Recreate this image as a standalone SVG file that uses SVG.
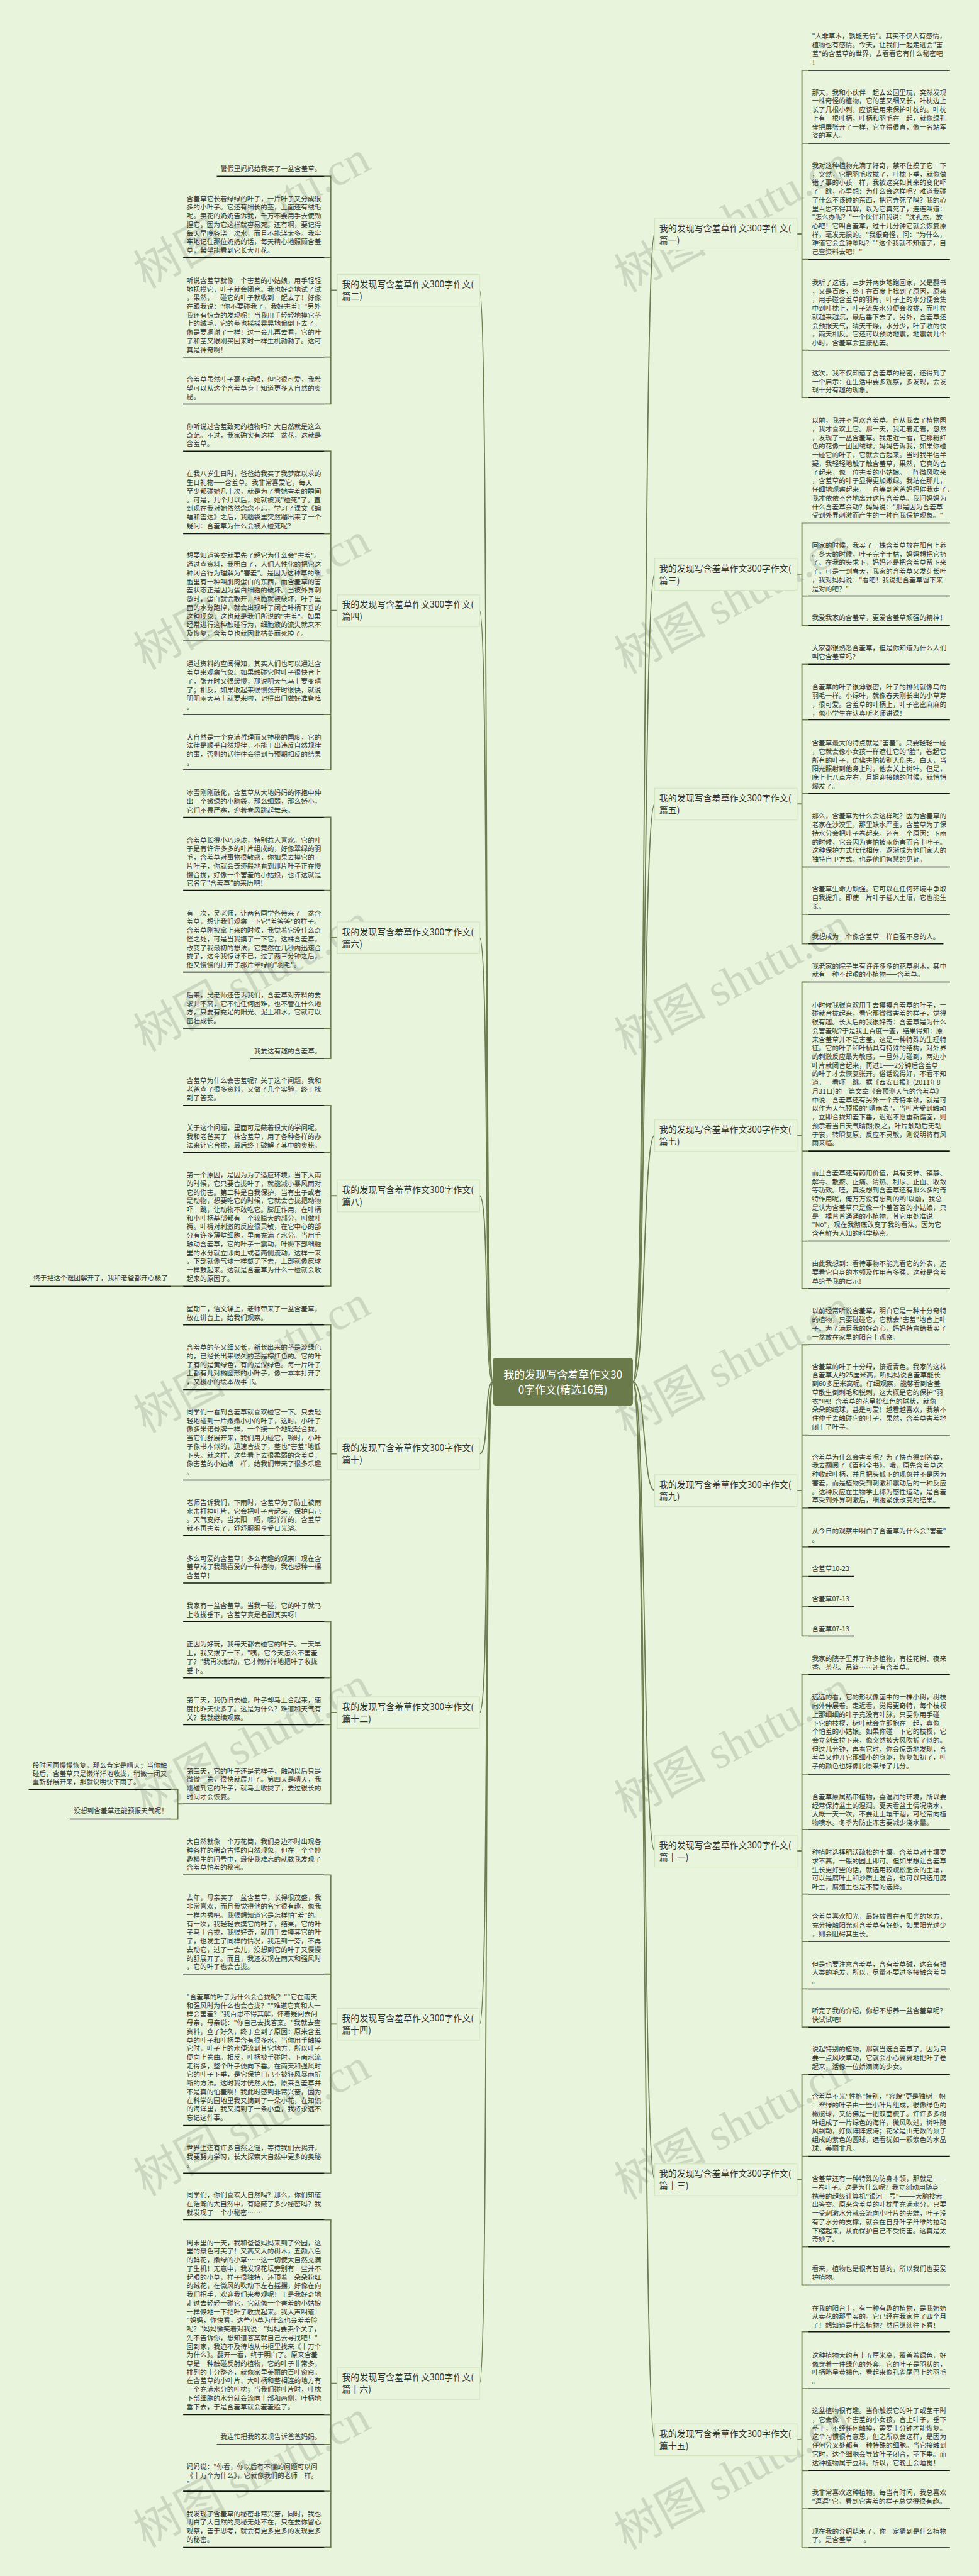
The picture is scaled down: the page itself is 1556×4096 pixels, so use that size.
<svg xmlns="http://www.w3.org/2000/svg" width="1556" height="4096" viewBox="0 0 1556 4096">
<style>
.t{font-family:"Noto Sans CJK SC","Liberation Sans",sans-serif;font-size:17.6px;fill:#333}
.e{text-anchor:end}
.u{stroke:#111;stroke-width:2.6}
.b{stroke:#6e7d50;stroke-width:3;fill:none}
.c{stroke:#6e7d50;stroke-width:3;fill:none}
.lb{fill:#e8f5dc;stroke:#d3e6c2;stroke-width:2}
.lt{font-family:"Noto Sans CJK SC","Liberation Sans",sans-serif;font-size:23px;fill:#333}
.ct{font-family:"Noto Sans CJK SC","Liberation Sans",sans-serif;font-size:28px;fill:#fff;text-anchor:middle}
.wm{font-family:"Liberation Serif","Noto Sans CJK SC",serif;font-size:120px;fill:#a9b3a0;opacity:0.45;text-anchor:end}
</style>
<rect width="1556" height="4096" fill="#e8f5dc"/>
<g transform="scale(0.60781)">
<g id="watermarks">
<text class="wm" transform="translate(975,440) rotate(-28)">树图 shutu.cn</text>
<text class="wm" transform="translate(975,1438) rotate(-28)">树图 shutu.cn</text>
<text class="wm" transform="translate(975,2436) rotate(-28)">树图 shutu.cn</text>
<text class="wm" transform="translate(975,3434) rotate(-28)">树图 shutu.cn</text>
<text class="wm" transform="translate(975,4432) rotate(-28)">树图 shutu.cn</text>
<text class="wm" transform="translate(975,5430) rotate(-28)">树图 shutu.cn</text>
<text class="wm" transform="translate(975,6350) rotate(-28)">树图 shutu.cn</text>
<text class="wm" transform="translate(2232,450) rotate(-28)">树图 shutu.cn</text>
<text class="wm" transform="translate(2232,1448) rotate(-28)">树图 shutu.cn</text>
<text class="wm" transform="translate(2232,2446) rotate(-28)">树图 shutu.cn</text>
<text class="wm" transform="translate(2232,3444) rotate(-28)">树图 shutu.cn</text>
<text class="wm" transform="translate(2232,4442) rotate(-28)">树图 shutu.cn</text>
<text class="wm" transform="translate(2232,5440) rotate(-28)">树图 shutu.cn</text>
<text class="wm" transform="translate(2232,6355) rotate(-28)">树图 shutu.cn</text>
</g>
<g id="connectors">
<path class="c" d="M1655,3615 C1690,3615 1680,612 1712,612"/>
<path class="c" d="M1655,3615 C1690,3615 1680,1502 1712,1502"/>
<path class="c" d="M1655,3615 C1690,3615 1680,2103 1712,2103"/>
<path class="c" d="M1655,3615 C1690,3615 1680,2970 1712,2970"/>
<path class="c" d="M1655,3615 C1690,3615 1680,3899 1712,3899"/>
<path class="c" d="M1655,3615 C1690,3615 1680,4842 1712,4842"/>
<path class="c" d="M1655,3615 C1690,3615 1680,5702 1712,5702"/>
<path class="c" d="M1655,3615 C1690,3615 1680,6382 1712,6382"/>
<path class="c" d="M1289,3615 C1265,3615 1280,759 1254,759"/>
<path class="c" d="M1289,3615 C1265,3615 1280,1597 1254,1597"/>
<path class="c" d="M1289,3615 C1265,3615 1280,2453 1254,2453"/>
<path class="c" d="M1289,3615 C1265,3615 1280,3128 1254,3128"/>
<path class="c" d="M1289,3615 C1265,3615 1280,3803 1254,3803"/>
<path class="c" d="M1289,3615 C1265,3615 1280,4480 1254,4480"/>
<path class="c" d="M1289,3615 C1265,3615 1280,5295 1254,5295"/>
<path class="c" d="M1289,3615 C1265,3615 1280,6235 1254,6235"/>
<path class="b" d="M848,461H865V1057H848M848,674H865M848,934H865M865,759H882"/>
<path class="b" d="M848,1180H865V2014H848M848,1396H865M848,1677H865M848,1869H865M865,1597H882"/>
<path class="b" d="M848,2138H865V2769H848M848,2329H865M848,2543H865M848,2690H865M865,2453H882"/>
<path class="b" d="M848,2892H865V3365H848M848,3015H865M865,3128H882"/>
<path class="b" d="M848,3466H865V4141H848M848,3635H865M848,3872H865M848,4017H865M865,3803H882"/>
<path class="b" d="M848,4242H865V4719H848M848,4389H865M848,4512H865M865,4480H882"/>
<path class="b" d="M848,4905H865V5685H848M848,5164H865M848,5560H865M865,5295H882"/>
<path class="b" d="M848,5807H865V6664H848M848,6317H865M848,6395H865M848,6517H865M865,6235H882"/>
<path class="b" d="M479,4719H465M447,4681H465V4759H447"/>
<path class="b" d="M479,3365H447"/>
<path class="b" d="M2114,184H2097V1040H2114M2097,375H2114M2097,679H2114M2097,916H2114M2084,612H2097"/>
<path class="b" d="M2114,1368H2097V1636H2114M2097,1559H2114M2084,1502H2097"/>
<path class="b" d="M2114,1738H2097V2469H2114M2097,1883H2114M2097,2076H2114M2097,2268H2114M2097,2392H2114M2084,2103H2097"/>
<path class="b" d="M2114,2569H2097V3371H2114M2097,3011H2114M2097,3247H2114M2084,2970H2097"/>
<path class="b" d="M2114,3518H2097V4280H2114M2097,3754H2114M2097,3945H2114M2097,4047H2114M2097,4124H2114M2097,4203H2114M2084,3899H2097"/>
<path class="b" d="M2114,4381H2097V5303H2114M2097,4641H2114M2097,4786H2114M2097,4955H2114M2097,5079H2114M2097,5203H2114M2084,4842H2097"/>
<path class="b" d="M2114,5427H2097V5978H2114M2097,5641H2114M2097,5878H2114M2084,5702H2097"/>
<path class="b" d="M2114,6100H2097V6665H2114M2097,6249H2114M2097,6463H2114M2097,6563H2114M2084,6382H2097"/>
</g>
<g id="center">
<rect x="1289" y="3552" width="366" height="126" rx="8" fill="#6a7a4b"/>
<text class="ct"><tspan x="1472" y="3606">我的发现写含羞草作文30</tspan><tspan x="1472" y="3646">0字作文(精选16篇)</tspan></text>
</g>
<g id="labels">
<g id="p2"><rect class="lb" x="882" y="718" width="372" height="83"/><text class="lt"><tspan x="894" y="752">我的发现写含羞草作文300字作文(</tspan><tspan x="894" y="783">篇二)</tspan></text></g>
<g id="p4"><rect class="lb" x="882" y="1556" width="372" height="83"/><text class="lt"><tspan x="894" y="1590">我的发现写含羞草作文300字作文(</tspan><tspan x="894" y="1621">篇四)</tspan></text></g>
<g id="p6"><rect class="lb" x="882" y="2412" width="372" height="83"/><text class="lt"><tspan x="894" y="2446">我的发现写含羞草作文300字作文(</tspan><tspan x="894" y="2477">篇六)</tspan></text></g>
<g id="p8"><rect class="lb" x="882" y="3087" width="372" height="83"/><text class="lt"><tspan x="894" y="3121">我的发现写含羞草作文300字作文(</tspan><tspan x="894" y="3152">篇八)</tspan></text></g>
<g id="p10"><rect class="lb" x="882" y="3762" width="372" height="83"/><text class="lt"><tspan x="894" y="3796">我的发现写含羞草作文300字作文(</tspan><tspan x="894" y="3827">篇十)</tspan></text></g>
<g id="p12"><rect class="lb" x="882" y="4439" width="372" height="83"/><text class="lt"><tspan x="894" y="4473">我的发现写含羞草作文300字作文(</tspan><tspan x="894" y="4504">篇十二)</tspan></text></g>
<g id="p14"><rect class="lb" x="882" y="5254" width="372" height="83"/><text class="lt"><tspan x="894" y="5288">我的发现写含羞草作文300字作文(</tspan><tspan x="894" y="5319">篇十四)</tspan></text></g>
<g id="p16"><rect class="lb" x="882" y="6194" width="372" height="83"/><text class="lt"><tspan x="894" y="6228">我的发现写含羞草作文300字作文(</tspan><tspan x="894" y="6259">篇十六)</tspan></text></g>
<g id="p1"><rect class="lb" x="1712" y="571" width="372" height="83"/><text class="lt"><tspan x="1724" y="605">我的发现写含羞草作文300字作文(</tspan><tspan x="1724" y="636">篇一)</tspan></text></g>
<g id="p3"><rect class="lb" x="1712" y="1461" width="372" height="83"/><text class="lt"><tspan x="1724" y="1495">我的发现写含羞草作文300字作文(</tspan><tspan x="1724" y="1526">篇三)</tspan></text></g>
<g id="p5"><rect class="lb" x="1712" y="2062" width="372" height="83"/><text class="lt"><tspan x="1724" y="2096">我的发现写含羞草作文300字作文(</tspan><tspan x="1724" y="2127">篇五)</tspan></text></g>
<g id="p7"><rect class="lb" x="1712" y="2929" width="372" height="83"/><text class="lt"><tspan x="1724" y="2963">我的发现写含羞草作文300字作文(</tspan><tspan x="1724" y="2994">篇七)</tspan></text></g>
<g id="p9"><rect class="lb" x="1712" y="3858" width="372" height="83"/><text class="lt"><tspan x="1724" y="3892">我的发现写含羞草作文300字作文(</tspan><tspan x="1724" y="3923">篇九)</tspan></text></g>
<g id="p11"><rect class="lb" x="1712" y="4801" width="372" height="83"/><text class="lt"><tspan x="1724" y="4835">我的发现写含羞草作文300字作文(</tspan><tspan x="1724" y="4866">篇十一)</tspan></text></g>
<g id="p13"><rect class="lb" x="1712" y="5661" width="372" height="83"/><text class="lt"><tspan x="1724" y="5695">我的发现写含羞草作文300字作文(</tspan><tspan x="1724" y="5726">篇十三)</tspan></text></g>
<g id="p15"><rect class="lb" x="1712" y="6341" width="372" height="83"/><text class="lt"><tspan x="1724" y="6375">我的发现写含羞草作文300字作文(</tspan><tspan x="1724" y="6406">篇十五)</tspan></text></g>
</g>
<g id="left-leaves">
<g id="a1"><text class="t e" x="840" y="448">暑假里妈妈给我买了一盆含羞草。</text><line class="u" x1="567" y1="461" x2="848" y2="461"/></g>
<g id="a2"><text class="t"><tspan x="488" y="526">含羞草它长着绿绿的叶子，一片叶子又分成很</tspan><tspan x="488" dy="22.6">多的小叶子。它还有细长的茎，上面还有绒毛</tspan><tspan x="488" dy="22.6">呢。卖花的奶奶告诉我，千万不要用手去使劲</tspan><tspan x="488" dy="22.6">捏它，因为它这样就容易死。还有啊，要记得</tspan><tspan x="488" dy="22.6">每天早晚各浇一次水，而且不能浇太多。我牢</tspan><tspan x="488" dy="22.6">牢地记住那位奶奶的话，每天精心地照顾含羞</tspan><tspan x="488" dy="22.6">草，希望能看到它长大开花。</tspan></text><line class="u" x1="479" y1="674" x2="848" y2="674"/></g>
<g id="a3"><text class="t"><tspan x="488" y="740">听说含羞草就像一个害羞的小姑娘，用手轻轻</tspan><tspan x="488" dy="22.6">地抚摸它，叶子就会闭合。我也好奇地试了试</tspan><tspan x="488" dy="22.6">，果然，一碰它的叶子就收到一起去了！好像</tspan><tspan x="488" dy="22.6">在跟我说："你不要碰我了，我好害羞！"另外</tspan><tspan x="488" dy="22.6">我还有惊奇的发现呢！当我用手轻轻地摸它茎</tspan><tspan x="488" dy="22.6">上的绒毛，它的茎也摇摇晃晃地偏倒下去了，</tspan><tspan x="488" dy="22.6">像是要凋谢了一样！过一会儿再去看，它的叶</tspan><tspan x="488" dy="22.6">子和茎又跟刚买回来时一样生机勃勃了。这可</tspan><tspan x="488" dy="22.6">真是神奇啊！</tspan></text><line class="u" x1="479" y1="934" x2="848" y2="934"/></g>
<g id="a4"><text class="t"><tspan x="488" y="999">含羞草虽然叶子毫不起眼，但它很可爱，我希</tspan><tspan x="488" dy="22.6">望可以从这个含羞草身上知道更多大自然的奥</tspan><tspan x="488" dy="22.6">秘。</tspan></text><line class="u" x1="479" y1="1057" x2="848" y2="1057"/></g>
<g id="a5"><text class="t"><tspan x="488" y="1122">你听说过含羞致死的植物吗？大自然就是这么</tspan><tspan x="488" dy="22.6">奇葩。不过，我家确实有这样一盆花，这就是</tspan><tspan x="488" dy="22.6">含羞草。</tspan></text><line class="u" x1="479" y1="1180" x2="848" y2="1180"/></g>
<g id="a6"><text class="t"><tspan x="488" y="1246">在我八岁生日时，爸爸给我买了我梦寐以求的</tspan><tspan x="488" dy="22.6">生日礼物——含羞草。我非常喜爱它，每天</tspan><tspan x="488" dy="22.6">至少都碰她几十次，就是为了看她害羞的瞬间</tspan><tspan x="488" dy="22.6">。可是，几个月以后，她就被我"碰死"了。直</tspan><tspan x="488" dy="22.6">到现在我对她依然念念不忘，学习了课文《蝙</tspan><tspan x="488" dy="22.6">蝠和雷达》之后，我脑袋里突然蹦出来了一个</tspan><tspan x="488" dy="22.6">疑问：含羞草为什么会被人碰死呢？</tspan></text><line class="u" x1="479" y1="1396" x2="848" y2="1396"/></g>
<g id="a7"><text class="t"><tspan x="488" y="1460">想要知道答案就要先了解它为什么会"害羞"。</tspan><tspan x="488" dy="22.6">通过查资料，我明白了，人们人性化的把它这</tspan><tspan x="488" dy="22.6">种闭合行为理解为"害羞"。是因为这种草的细</tspan><tspan x="488" dy="22.6">胞里有一种叫肌肉蛋白的东西，而含羞草的害</tspan><tspan x="488" dy="22.6">羞状态正是因为蛋白细胞的破坏。当被外界刺</tspan><tspan x="488" dy="22.6">激时，蛋白就会散开，细胞就被破坏，叶子里</tspan><tspan x="488" dy="22.6">面的水分跑掉，就会出现叶子闭合叶柄下垂的</tspan><tspan x="488" dy="22.6">这种现象，这也就是我们所说的"害羞"。如果</tspan><tspan x="488" dy="22.6">经常进行这种触碰行为，细胞液的流失就来不</tspan><tspan x="488" dy="22.6">及恢复，含羞草也就因此枯萎而死掉了。</tspan></text><line class="u" x1="479" y1="1677" x2="848" y2="1677"/></g>
<g id="a8"><text class="t"><tspan x="488" y="1743">通过资料的查阅得知，其实人们也可以通过含</tspan><tspan x="488" dy="22.6">羞草来观察气象。如果触碰它时叶子很快合上</tspan><tspan x="488" dy="22.6">了，张开时又很缓慢，那说明天气马上要变晴</tspan><tspan x="488" dy="22.6">了；相反，如果收起来很慢张开时很快，就说</tspan><tspan x="488" dy="22.6">明阴雨天马上就要来啦，记得出门做好准备吆</tspan><tspan x="488" dy="22.6">。</tspan></text><line class="u" x1="479" y1="1869" x2="848" y2="1869"/></g>
<g id="a9"><text class="t"><tspan x="488" y="1934">大自然是一个充满哲理而又神秘的国度，它的</tspan><tspan x="488" dy="22.6">法律是顺乎自然规律，不能干出违反自然规律</tspan><tspan x="488" dy="22.6">的事，否则的话往往会得到与预期相反的结果</tspan><tspan x="488" dy="22.6">。</tspan></text><line class="u" x1="479" y1="2014" x2="848" y2="2014"/></g>
<g id="a10"><text class="t"><tspan x="488" y="2080">冰雪刚刚融化，含羞草从大地妈妈的怀抱中伸</tspan><tspan x="488" dy="22.6">出一个嫩绿的小脑袋，那么细弱，那么娇小，</tspan><tspan x="488" dy="22.6">它们不畏严寒，迎着春风跳起舞来。</tspan></text><line class="u" x1="479" y1="2138" x2="848" y2="2138"/></g>
<g id="a11"><text class="t"><tspan x="488" y="2204">含羞草长得小巧玲珑，特别惹人喜欢。它的叶</tspan><tspan x="488" dy="22.6">子是有许许多多的叶片组成的，好像翠绿的羽</tspan><tspan x="488" dy="22.6">毛，含羞草对事物很敏感，你如果去摸它的一</tspan><tspan x="488" dy="22.6">片叶子，你就会奇迹般地看到那片叶子正在慢</tspan><tspan x="488" dy="22.6">慢合拢，好像一个害羞的小姑娘，也许这就是</tspan><tspan x="488" dy="22.6">它名字"含羞草"的来历吧！</tspan></text><line class="u" x1="479" y1="2329" x2="848" y2="2329"/></g>
<g id="a12"><text class="t"><tspan x="488" y="2395">有一次，吴老师，让两名同学各带来了一盆含</tspan><tspan x="488" dy="22.6">羞草，想让我们观察一下它"羞答答"的样子。</tspan><tspan x="488" dy="22.6">含羞草刚被拿上来的时候，我觉着它没什么奇</tspan><tspan x="488" dy="22.6">怪之处，可是当我摸了一下它，这株含羞草，</tspan><tspan x="488" dy="22.6">改变了我最初的想法，它竟然在几秒内迅速合</tspan><tspan x="488" dy="22.6">拢了，这令我惊讶不已，过了两三分钟之后，</tspan><tspan x="488" dy="22.6">他又慢慢的打开了那片翠绿的"羽毛"。</tspan></text><line class="u" x1="479" y1="2543" x2="848" y2="2543"/></g>
<g id="a13"><text class="t"><tspan x="488" y="2609">后来，吴老师还告诉我们，含羞草对养料的要</tspan><tspan x="488" dy="22.6">求并不高，它不怕任何困难，也不管在什么地</tspan><tspan x="488" dy="22.6">方，只要有充足的阳光、泥土和水，它就可以</tspan><tspan x="488" dy="22.6">茁壮成长。</tspan></text><line class="u" x1="479" y1="2690" x2="848" y2="2690"/></g>
<g id="a14"><text class="t e" x="840" y="2755">我爱这有趣的含羞草。</text><line class="u" x1="655" y1="2769" x2="848" y2="2769"/></g>
<g id="a15"><text class="t"><tspan x="488" y="2833">含羞草为什么会害羞呢？关于这个问题，我和</tspan><tspan x="488" dy="22.6">老爸查了很多资料，又做了几个实验，终于找</tspan><tspan x="488" dy="22.6">到了答案。</tspan></text><line class="u" x1="479" y1="2892" x2="848" y2="2892"/></g>
<g id="a16"><text class="t"><tspan x="488" y="2957">关于这个问题，里面可是藏着很大的学问呢。</tspan><tspan x="488" dy="22.6">我和老爸买了一株含羞草，用了各种各样的办</tspan><tspan x="488" dy="22.6">法来让它合拢，最后终于破解了其中的奥秘。</tspan></text><line class="u" x1="479" y1="3015" x2="848" y2="3015"/></g>
<g id="a17"><text class="t"><tspan x="488" y="3080">第一个原因，是因为为了适应环境，当下大雨</tspan><tspan x="488" dy="22.6">的时候，它只要合拢叶子，就能减小暴风雨对</tspan><tspan x="488" dy="22.6">它的伤害。第二种是自我保护，当有虫子或者</tspan><tspan x="488" dy="22.6">是动物，想要吃它的时候，它就会合拢把动物</tspan><tspan x="488" dy="22.6">吓一跳，让动物不敢吃它。膨压作用，在叶柄</tspan><tspan x="488" dy="22.6">和小叶柄基部都有一个较膨大的部分，叫做叶</tspan><tspan x="488" dy="22.6">褥。叶褥对刺激的反应很灵敏，在它中心的部</tspan><tspan x="488" dy="22.6">分有许多薄壁细胞，里面充满了水分。当用手</tspan><tspan x="488" dy="22.6">触动含羞草，它的叶子一震动，叶褥下部细胞</tspan><tspan x="488" dy="22.6">里的水分就立即向上或者两侧流动，这样一来</tspan><tspan x="488" dy="22.6">。下部就像气球一样憋了下去，上部就像皮球</tspan><tspan x="488" dy="22.6">一样鼓起来。这就是含羞草为什么一碰就会收</tspan><tspan x="488" dy="22.6">起来的原因了。</tspan></text><line class="u" x1="479" y1="3365" x2="848" y2="3365"/></g>
<g id="fl1"><text class="t e" x="439" y="3350">终于把这个谜团解开了，我和老爸都开心极了</text><line class="u" x1="78" y1="3365" x2="447" y2="3365"/></g>
<g id="a18"><text class="t"><tspan x="488" y="3431">星期二，语文课上，老师带来了一盆含羞草，</tspan><tspan x="488" dy="22.6">放在讲台上，给我们观察。</tspan></text><line class="u" x1="479" y1="3466" x2="848" y2="3466"/></g>
<g id="a19"><text class="t"><tspan x="488" y="3531">含羞草的茎又细又长，新长出来的茎是淡绿色</tspan><tspan x="488" dy="22.6">的，已经长出来很久的茎是棕红色的。它的叶</tspan><tspan x="488" dy="22.6">子有的是黄绿色，有的是深绿色。每一片叶子</tspan><tspan x="488" dy="22.6">上都有几对椭圆形的小叶子，像一本本打开了</tspan><tspan x="488" dy="22.6">，又极小的绘本故事书。</tspan></text><line class="u" x1="479" y1="3635" x2="848" y2="3635"/></g>
<g id="a20"><text class="t"><tspan x="488" y="3700">同学们一看到含羞草就喜欢碰它一下。只要轻</tspan><tspan x="488" dy="22.6">轻地碰到一片嫩嫩小小的叶子，这时，小叶子</tspan><tspan x="488" dy="22.6">像多米诺骨牌一样，一个接一个地轻轻合拢。</tspan><tspan x="488" dy="22.6">当它们舒展开来，我们用力碰它，顿时，小叶</tspan><tspan x="488" dy="22.6">子像书本似的，迅速合拢了，茎也"害羞"地低</tspan><tspan x="488" dy="22.6">下头。就这样，这些看上去很柔弱的含羞草，</tspan><tspan x="488" dy="22.6">像害羞的小姑娘一样，给我们带来了很多乐趣</tspan><tspan x="488" dy="22.6">。</tspan></text><line class="u" x1="479" y1="3872" x2="848" y2="3872"/></g>
<g id="a21"><text class="t"><tspan x="488" y="3937">老师告诉我们，下雨时，含羞草为了防止被雨</tspan><tspan x="488" dy="22.6">水击打掉叶片，它会把叶子合起来，保护自己</tspan><tspan x="488" dy="22.6">。天气变好，当太阳一晒，暖洋洋的，含羞草</tspan><tspan x="488" dy="22.6">就不再害羞了，舒舒服服享受日光浴。</tspan></text><line class="u" x1="479" y1="4017" x2="848" y2="4017"/></g>
<g id="a22"><text class="t"><tspan x="488" y="4083">多么可爱的含羞草！多么有趣的观察！现在含</tspan><tspan x="488" dy="22.6">羞草成了我最喜爱的一种植物，我也想种一棵</tspan><tspan x="488" dy="22.6">含羞草！</tspan></text><line class="u" x1="479" y1="4141" x2="848" y2="4141"/></g>
<g id="a23"><text class="t"><tspan x="488" y="4207">我家有一盆含羞草。当我一碰，它的叶子就马</tspan><tspan x="488" dy="22.6">上收拢垂下，含羞草真是名副其实呀！</tspan></text><line class="u" x1="479" y1="4242" x2="848" y2="4242"/></g>
<g id="a24"><text class="t"><tspan x="488" y="4308">正因为好玩，我每天都去碰它的叶子。一天早</tspan><tspan x="488" dy="22.6">上，我又拨了一下，"咦，它今天怎么不害羞</tspan><tspan x="488" dy="22.6">了？"我再次触动，它才懒洋洋地把叶子收拢</tspan><tspan x="488" dy="22.6">垂下。</tspan></text><line class="u" x1="479" y1="4389" x2="848" y2="4389"/></g>
<g id="a25"><text class="t"><tspan x="488" y="4454">第二天，我仍旧去碰，叶子却马上合起来，速</tspan><tspan x="488" dy="22.6">度比昨天快多了。这是为什么？难道和天气有</tspan><tspan x="488" dy="22.6">关？我就继续观察。</tspan></text><line class="u" x1="479" y1="4512" x2="848" y2="4512"/></g>
<g id="a26"><text class="t"><tspan x="488" y="4639">第三天，它的叶子还是老样子，触动以后只是</tspan><tspan x="488" dy="22.6">微微一卷，很快就展开了。第四天是晴天，我</tspan><tspan x="488" dy="22.6">刚碰到它的叶子，就马上收拢了，要过很长的</tspan><tspan x="488" dy="22.6">时间才会恢复。</tspan></text><line class="u" x1="479" y1="4719" x2="848" y2="4719"/></g>
<g id="fl2"><text class="t"><tspan x="85" y="4624">段时间再慢慢恢复，那么肯定是晴天；当你触</tspan><tspan x="85" dy="21.7">碰后，含羞草只是懒洋洋地收拢，稍微一闭又</tspan><tspan x="85" dy="21.7">重新舒展开来，那就说明快下雨了。</tspan></text><line class="u" x1="75" y1="4681" x2="447" y2="4681"/></g>
<g id="fl3"><text class="t e" x="439" y="4743">没想到含羞草还能预报天气呢！</text><line class="u" x1="182" y1="4759" x2="447" y2="4759"/></g>
<g id="a27"><text class="t"><tspan x="488" y="4824">大自然就像一个万花筒，我们身边不时出现各</tspan><tspan x="488" dy="22.6">种各样的稀奇古怪的自然现象，但在一个个妙</tspan><tspan x="488" dy="22.6">趣横生的问号中，最使我难忘的就数我发现了</tspan><tspan x="488" dy="22.6">含羞草怕羞的秘密。</tspan></text><line class="u" x1="479" y1="4905" x2="848" y2="4905"/></g>
<g id="a28"><text class="t"><tspan x="488" y="4971">去年，母亲买了一盆含羞草，长得很茂盛，我</tspan><tspan x="488" dy="22.6">非常喜欢，而且我觉得他的名字很有趣，像我</tspan><tspan x="488" dy="22.6">一样内秀吧。我很想知道它是怎样怕"羞"的。</tspan><tspan x="488" dy="22.6">有一次，我轻轻去摸它的叶子，结果，它的叶</tspan><tspan x="488" dy="22.6">子马上合拢，我很好奇，就用手去摸其它的叶</tspan><tspan x="488" dy="22.6">子，也发生了同样的情况，我走到一旁，不再</tspan><tspan x="488" dy="22.6">去动它，过了一会儿，没想到它的叶子又慢慢</tspan><tspan x="488" dy="22.6">的舒展开了。而且，我还发现在雨天和强风时</tspan><tspan x="488" dy="22.6">，它的叶子也会合拢。</tspan></text><line class="u" x1="479" y1="5164" x2="848" y2="5164"/></g>
<g id="a29"><text class="t"><tspan x="488" y="5230">"含羞草的叶子为什么会合拢呢？""它在雨天</tspan><tspan x="488" dy="22.6">和强风时为什么也会合拢？""难道它真和人一</tspan><tspan x="488" dy="22.6">样会害羞？"我百思不得其解，怀着疑问去问</tspan><tspan x="488" dy="22.6">母亲，母亲说："你自己去找答案。"我就去查</tspan><tspan x="488" dy="22.6">资料，查了好久，终于查到了原因：原来含羞</tspan><tspan x="488" dy="22.6">草的叶子和叶柄里含有很多水，当你用手触摸</tspan><tspan x="488" dy="22.6">它时，叶子上的水便流到其它地方，所以叶子</tspan><tspan x="488" dy="22.6">便向上卷曲。相反，叶柄被手碰时，下面水流</tspan><tspan x="488" dy="22.6">走得多，整个叶子便向下垂。在雨天和强风时</tspan><tspan x="488" dy="22.6">它的叶子下垂，是它保护自己不被狂风暴雨折</tspan><tspan x="488" dy="22.6">断的方法。这时我才恍然大悟，原来含羞草并</tspan><tspan x="488" dy="22.6">不是真的怕羞啊！我此时感到非常兴奋，因为</tspan><tspan x="488" dy="22.6">在科学的园地里我又摘到了一朵小花，在知识</tspan><tspan x="488" dy="22.6">的海洋里，我又捕到了一条小鱼，我将永远不</tspan><tspan x="488" dy="22.6">忘记这件事。</tspan></text><line class="u" x1="479" y1="5560" x2="848" y2="5560"/></g>
<g id="a30"><text class="t"><tspan x="488" y="5625">世界上还有许多自然之谜，等待我们去揭开，</tspan><tspan x="488" dy="22.6">我要努力学习，长大探索大自然中更多的奥秘</tspan><tspan x="488" dy="22.6">。</tspan></text><line class="u" x1="479" y1="5685" x2="848" y2="5685"/></g>
<g id="a31"><text class="t"><tspan x="488" y="5749">同学们，你们喜欢大自然吗？那么，你们知道</tspan><tspan x="488" dy="22.6">在浩瀚的大自然中，有隐藏了多少秘密吗？我</tspan><tspan x="488" dy="22.6">就发现了一个小秘密……</tspan></text><line class="u" x1="479" y1="5807" x2="848" y2="5807"/></g>
<g id="a32"><text class="t"><tspan x="488" y="5873">周末里的一天，我和爸爸妈妈来到了公园，这</tspan><tspan x="488" dy="22.6">里的景色可美了！又高又大的树木，五颜六色</tspan><tspan x="488" dy="22.6">的鲜花，嫩绿的小草……这一切使大自然充满</tspan><tspan x="488" dy="22.6">了生机！无意中，我发现花坛旁别有一些并不</tspan><tspan x="488" dy="22.6">起眼的小草，样子很独特，还顶着一朵朵粉红</tspan><tspan x="488" dy="22.6">的绒花，在微风的吹动下左右摇摆，好像在向</tspan><tspan x="488" dy="22.6">我们招手，欢迎我们来参观呢！于是我好奇地</tspan><tspan x="488" dy="22.6">走过去轻轻一碰它，它就像一个害羞的小姑娘</tspan><tspan x="488" dy="22.6">一样倏地一下把叶子收拢起来。我大声叫道：</tspan><tspan x="488" dy="22.6">"妈妈，你快看，这些小草为什么也会羞羞脸</tspan><tspan x="488" dy="22.6">呢？"妈妈微笑着对我说："妈妈要卖个关子，</tspan><tspan x="488" dy="22.6">先不告诉你，想知道答案就自己去寻找吧！"</tspan><tspan x="488" dy="22.6">回到家，我迫不及待地从书柜里找来《十万个</tspan><tspan x="488" dy="22.6">为什么》。翻开一看，终于明白了。原来含羞</tspan><tspan x="488" dy="22.6">草是一种触碰反射的植物，它的叶子非常多，</tspan><tspan x="488" dy="22.6">排列的十分整齐，就像家里美丽的百叶窗帘。</tspan><tspan x="488" dy="22.6">在含羞草的小叶片、大叶柄和茎相连的地方有</tspan><tspan x="488" dy="22.6">一个充满水分的叶枕；当我们碰叶片时，叶枕</tspan><tspan x="488" dy="22.6">下部细胞的水分就会流向上部和两侧，叶柄地</tspan><tspan x="488" dy="22.6">垂下去，于是含羞草就会羞羞脸了。</tspan></text><line class="u" x1="479" y1="6317" x2="848" y2="6317"/></g>
<g id="a33"><text class="t e" x="840" y="6380">我连忙把我的发现告诉爸爸妈妈。</text><line class="u" x1="567" y1="6395" x2="848" y2="6395"/></g>
<g id="a34"><text class="t"><tspan x="488" y="6459">妈妈说："你看，你以后有不懂的问题可以问</tspan><tspan x="488" dy="22.6">《十万个为什么》，它就像我们的老师一样。</tspan><tspan x="488" dy="22.6">"</tspan></text><line class="u" x1="479" y1="6517" x2="848" y2="6517"/></g>
<g id="a35"><text class="t"><tspan x="488" y="6582">我发现了含羞草的秘密非常兴奋，同时，我也</tspan><tspan x="488" dy="22.6">明白了大自然的奥秘无处不在，只在要你留心</tspan><tspan x="488" dy="22.6">观察，善于思考，就会有更多更多的发现更多</tspan><tspan x="488" dy="22.6">的秘密。</tspan></text><line class="u" x1="479" y1="6664" x2="848" y2="6664"/></g>
</g>
<g id="right-leaves">
<g id="r1"><text class="t"><tspan x="2123" y="101">"人非草木，孰能无情"。其实不仅人有感情，</tspan><tspan x="2123" dy="22.6">植物也有感情。今天，让我们一起走进会"害</tspan><tspan x="2123" dy="22.6">羞"的含羞草的世界，去看看它有什么秘密吧</tspan><tspan x="2123" dy="22.6">！</tspan></text><line class="u" x1="2114" y1="184" x2="2484" y2="184"/></g>
<g id="r2"><text class="t"><tspan x="2123" y="248">那天，我和小伙伴一起去公园里玩，突然发现</tspan><tspan x="2123" dy="22.6">一株奇怪的植物，它的茎又细又长，叶枕边上</tspan><tspan x="2123" dy="22.6">长了几根小刺，应该是用来保护叶枕的。叶枕</tspan><tspan x="2123" dy="22.6">上有一根叶柄，叶柄和羽毛在一起，就像绿孔</tspan><tspan x="2123" dy="22.6">雀把屏张开了一样，它立得很直，像一名站军</tspan><tspan x="2123" dy="22.6">姿的军人。</tspan></text><line class="u" x1="2114" y1="375" x2="2484" y2="375"/></g>
<g id="r3"><text class="t"><tspan x="2123" y="439">我对这种植物充满了好奇，禁不住摸了它一下</tspan><tspan x="2123" dy="22.6">，突然，它把羽毛收拢了，叶枕下垂，就像做</tspan><tspan x="2123" dy="22.6">错了事的小孩一样，我被这突如其来的变化吓</tspan><tspan x="2123" dy="22.6">了一跳，心里想：为什么会这样呢？难道我碰</tspan><tspan x="2123" dy="22.6">了什么不该碰的东西，把它弄死了吗？我的心</tspan><tspan x="2123" dy="22.6">里百思不得其解，以为它真死了，连连叫道：</tspan><tspan x="2123" dy="22.6">"怎么办呢？"一个伙伴和我说："沈孔杰，放</tspan><tspan x="2123" dy="22.6">心吧！它叫含羞草，过十几分钟它就会恢复原</tspan><tspan x="2123" dy="22.6">样，毫发无损的。"我很奇怪，问："为什么，</tspan><tspan x="2123" dy="22.6">难道它会金钟罩吗？""这个我就不知道了，自</tspan><tspan x="2123" dy="22.6">己查资料去吧！"</tspan></text><line class="u" x1="2114" y1="679" x2="2484" y2="679"/></g>
<g id="r4"><text class="t"><tspan x="2123" y="745">我听了这话，三步并两步地跑回家，又是翻书</tspan><tspan x="2123" dy="22.6">，又是百度，终于在百度上找到了原因，原来</tspan><tspan x="2123" dy="22.6">，用手碰含羞草的羽片，叶子上的水分便会集</tspan><tspan x="2123" dy="22.6">中到叶枕上，叶子流失水分便会收拢，而叶枕</tspan><tspan x="2123" dy="22.6">就越来越沉，最后垂下去了。另外，含羞草还</tspan><tspan x="2123" dy="22.6">会预报天气，晴天干燥，水分少，叶子收的快</tspan><tspan x="2123" dy="22.6">，雨天相反。它还可以预防地震，地震前几个</tspan><tspan x="2123" dy="22.6">小时，含羞草会直接枯萎。</tspan></text><line class="u" x1="2114" y1="916" x2="2484" y2="916"/></g>
<g id="r5"><text class="t"><tspan x="2123" y="982">这次，我不仅知道了含羞草的秘密，还得到了</tspan><tspan x="2123" dy="22.6">一个启示：在生活中要多观察，多发现，会发</tspan><tspan x="2123" dy="22.6">现十分有趣的现象。</tspan></text><line class="u" x1="2114" y1="1040" x2="2484" y2="1040"/></g>
<g id="r6"><text class="t"><tspan x="2123" y="1106">以前，我并不喜欢含羞草。自从我去了植物园</tspan><tspan x="2123" dy="22.6">，我才喜欢上它。那一天，我走着走着，忽然</tspan><tspan x="2123" dy="22.6">，发现了一丛含羞草。我走近一看，它那粉红</tspan><tspan x="2123" dy="22.6">色的花像一团团绒球。妈妈告诉我，如果你碰</tspan><tspan x="2123" dy="22.6">一碰它的叶子，它就会合起来。当时我半信半</tspan><tspan x="2123" dy="22.6">疑，我轻轻地触了触含羞草，果然，它真的合</tspan><tspan x="2123" dy="22.6">了起来，像一位害羞的小姑娘。一阵微风吹来</tspan><tspan x="2123" dy="22.6">，含羞草的叶子显得更加嫩绿。我站在那儿，</tspan><tspan x="2123" dy="22.6">仔细地观察起来，一直等到爸爸妈妈催我走了，</tspan><tspan x="2123" dy="22.6">我才依依不舍地离开这片含羞草。我问妈妈为</tspan><tspan x="2123" dy="22.6">什么含羞草会动？妈妈说："那是因为含羞草</tspan><tspan x="2123" dy="22.6">受到外界刺激而产生的一种自我保护现象。"</tspan></text><line class="u" x1="2114" y1="1368" x2="2484" y2="1368"/></g>
<g id="r7"><text class="t"><tspan x="2123" y="1433">回家的时候，我买了一株含羞草放在阳台上养</tspan><tspan x="2123" dy="22.6">。冬天的时候，叶子完全干枯，妈妈想把它扔</tspan><tspan x="2123" dy="22.6">了。在我的央求下，妈妈还是把含羞草留下来</tspan><tspan x="2123" dy="22.6">了。可是一到春天，我家的含羞草又发芽长叶</tspan><tspan x="2123" dy="22.6">，我对妈妈说："看吧！我说把含羞草留下来</tspan><tspan x="2123" dy="22.6">是对的吧？"</tspan></text><line class="u" x1="2114" y1="1559" x2="2484" y2="1559"/></g>
<g id="r8"><text class="t" x="2123" y="1622">我爱我家的含羞草，更爱含羞草顽强的精神！</text><line class="u" x1="2114" y1="1636" x2="2484" y2="1636"/></g>
<g id="r9"><text class="t"><tspan x="2123" y="1701">大家都很熟悉含羞草，但是你知道为什么人们</tspan><tspan x="2123" dy="22.6">叫它含羞草吗？</tspan></text><line class="u" x1="2114" y1="1738" x2="2484" y2="1738"/></g>
<g id="r10"><text class="t"><tspan x="2123" y="1804">含羞草的叶子很薄很密，叶子的排列就像鸟的</tspan><tspan x="2123" dy="22.6">羽毛一样。小绿叶，就像春天刚长出的小草芽</tspan><tspan x="2123" dy="22.6">，很可爱。含羞草的叶柄上，叶子密密麻麻的</tspan><tspan x="2123" dy="22.6">，像小学生在认真听老师讲课！</tspan></text><line class="u" x1="2114" y1="1883" x2="2484" y2="1883"/></g>
<g id="r11"><text class="t"><tspan x="2123" y="1950">含羞草最大的特点就是"害羞"。只要轻轻一碰</tspan><tspan x="2123" dy="22.6">，它就会像小女孩一样遮住它的"脸"，卷起它</tspan><tspan x="2123" dy="22.6">所有的叶子，仿佛害怕被别人伤害。白天，当</tspan><tspan x="2123" dy="22.6">阳光照射到他身上时，他会关上树叶。但是，</tspan><tspan x="2123" dy="22.6">晚上七八点左右，月姐迎接她的时候，就悄悄</tspan><tspan x="2123" dy="22.6">爆发了。</tspan></text><line class="u" x1="2114" y1="2076" x2="2484" y2="2076"/></g>
<g id="r12"><text class="t"><tspan x="2123" y="2141">那么，含羞草为什么会这样呢？因为含羞草的</tspan><tspan x="2123" dy="22.6">老家在沙漠里，那里缺水严重，含羞草为了保</tspan><tspan x="2123" dy="22.6">持水分会把叶子卷起来。还有一个原因：下雨</tspan><tspan x="2123" dy="22.6">的时候，它会因为害怕被雨伤害而合上叶子。</tspan><tspan x="2123" dy="22.6">这种保护方式代代相传，逐渐成为他们家人的</tspan><tspan x="2123" dy="22.6">独特自卫方式，也是他们智慧的见证。</tspan></text><line class="u" x1="2114" y1="2268" x2="2484" y2="2268"/></g>
<g id="r13"><text class="t"><tspan x="2123" y="2332">含羞草生命力顽强。它可以在任何环境中争取</tspan><tspan x="2123" dy="22.6">自我提升。即使一片叶子插入土壤，它也能生</tspan><tspan x="2123" dy="22.6">长。</tspan></text><line class="u" x1="2114" y1="2392" x2="2484" y2="2392"/></g>
<g id="r14"><text class="t" x="2123" y="2456">我想成为一个像含羞草一样自强不息的人。</text><line class="u" x1="2114" y1="2469" x2="2467" y2="2469"/></g>
<g id="r15"><text class="t"><tspan x="2123" y="2533">我老家的院子里有许许多多的花草树木，其中</tspan><tspan x="2123" dy="22.6">就有一种不起眼的小植物——含羞草。</tspan></text><line class="u" x1="2114" y1="2569" x2="2484" y2="2569"/></g>
<g id="r16"><text class="t"><tspan x="2123" y="2635">小时候我很喜欢用手去摸摸含羞草的叶子，一</tspan><tspan x="2123" dy="22.6">碰就合拢起来，看它那微微害羞的样子，觉得</tspan><tspan x="2123" dy="22.6">很有趣。长大后的我很好奇：含羞草是为什么</tspan><tspan x="2123" dy="22.6">会害羞呢?于是我上百度一查，结果得知：原</tspan><tspan x="2123" dy="22.6">来含羞草并不是害羞，这是一种特殊的生理特</tspan><tspan x="2123" dy="22.6">征。它的叶子和叶柄具有特殊的结构，对外界</tspan><tspan x="2123" dy="22.6">的刺激反应最为敏感，一旦外力碰到，两边小</tspan><tspan x="2123" dy="22.6">叶片就闭合起来，再过1——2分钟后含羞草</tspan><tspan x="2123" dy="22.6">的叶子才会恢复张开。俗话说得好，不看不知</tspan><tspan x="2123" dy="22.6">道，一看吓一跳。据《西安日报》(2011年8</tspan><tspan x="2123" dy="22.6">月31日)的一篇文章《会预测天气的含羞草》</tspan><tspan x="2123" dy="22.6">中说：含羞草还有另外一个奇特本领，就是可</tspan><tspan x="2123" dy="22.6">以作为天气预报的"晴雨表"，当叶片受到触动</tspan><tspan x="2123" dy="22.6">，立即合拢知羞下垂，迟迟不愿重新露面，则</tspan><tspan x="2123" dy="22.6">预示着当日天气晴朗;反之，叶片触动后无动</tspan><tspan x="2123" dy="22.6">于衷，转瞬复原，反应不灵敏，则说明将有风</tspan><tspan x="2123" dy="22.6">雨来临。</tspan></text><line class="u" x1="2114" y1="3011" x2="2484" y2="3011"/></g>
<g id="r17"><text class="t"><tspan x="2123" y="3075">而且含羞草还有药用价值，具有安神、镇静、</tspan><tspan x="2123" dy="22.6">解毒、散瘀、止痛、清热、利尿、止血、收敛</tspan><tspan x="2123" dy="22.6">等功效。哇，真没想到含羞草还有那么多的奇</tspan><tspan x="2123" dy="22.6">特作用呢，俺万万没有想到的哟!以前，我总</tspan><tspan x="2123" dy="22.6">是认为含羞草只是像一个羞答答的小姑娘，只</tspan><tspan x="2123" dy="22.6">是一棵普普通通的小植物，其它用处准说</tspan><tspan x="2123" dy="22.6">"No"，现在我彻底改变了我的看法。因为它</tspan><tspan x="2123" dy="22.6">含有鲜为人知的科学秘密。</tspan></text><line class="u" x1="2114" y1="3247" x2="2484" y2="3247"/></g>
<g id="r18"><text class="t"><tspan x="2123" y="3312">由此我想到：看待事物不能光看它的外表，还</tspan><tspan x="2123" dy="22.6">要看它自身的本领及作用有多强，这就是含羞</tspan><tspan x="2123" dy="22.6">草给予我的启示!</tspan></text><line class="u" x1="2114" y1="3371" x2="2484" y2="3371"/></g>
<g id="r19"><text class="t"><tspan x="2123" y="3436">以前经常听说含羞草，明白它是一种十分奇特</tspan><tspan x="2123" dy="22.6">的植物，只要碰碰它，它就会"害羞"地合上叶</tspan><tspan x="2123" dy="22.6">子。为了满足我的好奇心，妈妈特意给我买了</tspan><tspan x="2123" dy="22.6">一盆放在家里的阳台上观察。</tspan></text><line class="u" x1="2114" y1="3518" x2="2484" y2="3518"/></g>
<g id="r20"><text class="t"><tspan x="2123" y="3581">含羞草的叶子十分绿，接近青色。我家的这株</tspan><tspan x="2123" dy="22.6">含羞草大约25厘米高，听妈妈说含羞草能长</tspan><tspan x="2123" dy="22.6">到60多厘米高呢。仔细观察，能够看到含羞</tspan><tspan x="2123" dy="22.6">草散生倒刺毛和锐刺，这大概是它的保护"羽</tspan><tspan x="2123" dy="22.6">衣"吧！含羞草的花呈粉红色的球状，就像一</tspan><tspan x="2123" dy="22.6">朵朵的绒球，甚是可爱！越看越喜欢，我禁不</tspan><tspan x="2123" dy="22.6">住伸手去触碰它的叶子，果然，含羞草害羞地</tspan><tspan x="2123" dy="22.6">闭上了叶子。</tspan></text><line class="u" x1="2114" y1="3754" x2="2484" y2="3754"/></g>
<g id="r21"><text class="t"><tspan x="2123" y="3818">含羞草为什么会害羞呢？为了快点得到答案，</tspan><tspan x="2123" dy="22.6">我去翻阅了《百科全书》。哦，原先含羞草这</tspan><tspan x="2123" dy="22.6">种收起叶柄，并且把头低下的现象并不是因为</tspan><tspan x="2123" dy="22.6">害羞，而是植物受到刺激和震动后的一种反应</tspan><tspan x="2123" dy="22.6">。这种反应在生物学上称为感性运动，是含羞</tspan><tspan x="2123" dy="22.6">草受到外界刺激后，细胞紧张改变的结果。</tspan></text><line class="u" x1="2114" y1="3945" x2="2484" y2="3945"/></g>
<g id="r22"><text class="t"><tspan x="2123" y="4011">从今日的观察中明白了含羞草为什么会"害羞"</tspan><tspan x="2123" dy="22.6">。</tspan></text><line class="u" x1="2114" y1="4047" x2="2484" y2="4047"/></g>
<g id="r23"><text class="t" x="2123" y="4110">含羞草10-23</text><line class="u" x1="2114" y1="4124" x2="2233" y2="4124"/></g>
<g id="r24"><text class="t" x="2123" y="4188">含羞草07-13</text><line class="u" x1="2114" y1="4203" x2="2233" y2="4203"/></g>
<g id="r25"><text class="t" x="2123" y="4267">含羞草07-13</text><line class="u" x1="2114" y1="4280" x2="2233" y2="4280"/></g>
<g id="r26"><text class="t"><tspan x="2123" y="4345">我家的院子里养了许多植物，有桂花树、夜来</tspan><tspan x="2123" dy="22.6">香、茶花、吊篮……还有含羞草。</tspan></text><line class="u" x1="2114" y1="4381" x2="2484" y2="4381"/></g>
<g id="r27"><text class="t"><tspan x="2123" y="4446">远远的看，它的形状像画中的一棵小树，树枝</tspan><tspan x="2123" dy="22.6">向外伸展着。走近看，觉得更奇特，每个枝杈</tspan><tspan x="2123" dy="22.6">上那细细的叶子竟没有叶脉，只要你用手碰一</tspan><tspan x="2123" dy="22.6">下它的枝杈，树叶就会立即抱在一起，真像一</tspan><tspan x="2123" dy="22.6">个怕羞的小姑娘。如果你碰一下它的枝杈，它</tspan><tspan x="2123" dy="22.6">会立刻耷拉下来，像突然被大风吹折了似的。</tspan><tspan x="2123" dy="22.6">但过几分钟，再看它时，你会惊奇地发现，含</tspan><tspan x="2123" dy="22.6">羞草又伸开它那细小的身躯，恢复如初了，叶</tspan><tspan x="2123" dy="22.6">子的颜色也好像比原来绿了几分。</tspan></text><line class="u" x1="2114" y1="4641" x2="2484" y2="4641"/></g>
<g id="r28"><text class="t"><tspan x="2123" y="4707">含羞草原属热带植物，喜湿润的环境，所以要</tspan><tspan x="2123" dy="22.6">经常保持盆土的湿润。夏天看盆土情况浇水，</tspan><tspan x="2123" dy="22.6">大概一天一次，不要让土壤干涸，可经常向植</tspan><tspan x="2123" dy="22.6">物喷水。冬季为防止冻害要减少浇水量。</tspan></text><line class="u" x1="2114" y1="4786" x2="2484" y2="4786"/></g>
<g id="r29"><text class="t"><tspan x="2123" y="4852">种植时选择肥沃疏松的土壤。含羞草对土壤要</tspan><tspan x="2123" dy="22.6">求不高，一般的园土即可。但如果想让含羞草</tspan><tspan x="2123" dy="22.6">生长更好些的话，就选用较疏松肥沃的土壤，</tspan><tspan x="2123" dy="22.6">可以是腐叶土和沙质土混合，也可以只选用腐</tspan><tspan x="2123" dy="22.6">叶土，腐殖土也是不错的选择。</tspan></text><line class="u" x1="2114" y1="4955" x2="2484" y2="4955"/></g>
<g id="r30"><text class="t"><tspan x="2123" y="5020">含羞草喜欢阳光，最好放置在有阳光的地方，</tspan><tspan x="2123" dy="22.6">充分接触阳光对含羞草有好处，如果阳光过少</tspan><tspan x="2123" dy="22.6">，则会阻碍其生长。</tspan></text><line class="u" x1="2114" y1="5079" x2="2484" y2="5079"/></g>
<g id="r31"><text class="t"><tspan x="2123" y="5144">但是也要注意含羞草，含有羞草碱，这会有损</tspan><tspan x="2123" dy="22.6">人类的毛发，所以，尽量不要过多接触含羞草</tspan><tspan x="2123" dy="22.6">。</tspan></text><line class="u" x1="2114" y1="5203" x2="2484" y2="5203"/></g>
<g id="r32"><text class="t"><tspan x="2123" y="5267">听完了我的介绍，你想不想养一盆含羞草呢?</tspan><tspan x="2123" dy="22.6">快试试吧!</tspan></text><line class="u" x1="2114" y1="5303" x2="2484" y2="5303"/></g>
<g id="r33"><text class="t"><tspan x="2123" y="5367">说起特别的植物，那就当选含羞草了。因为只</tspan><tspan x="2123" dy="22.6">要一点风吹草动，它就会小心翼翼地把叶子卷</tspan><tspan x="2123" dy="22.6">起来，活像一位娇滴滴的少女。</tspan></text><line class="u" x1="2114" y1="5427" x2="2484" y2="5427"/></g>
<g id="r34"><text class="t"><tspan x="2123" y="5491">含羞草不光"性格"特别，"容貌"更是独树一帜</tspan><tspan x="2123" dy="22.6">：翠绿的叶子由一些小叶片组成，很像绿色的</tspan><tspan x="2123" dy="22.6">橄榄球，又仿佛是一把双面梳子。许许多多树</tspan><tspan x="2123" dy="22.6">叶组成了一片绿色的海洋，微风吹过，树叶随</tspan><tspan x="2123" dy="22.6">风飘动，好似阵阵波涛；花朵是由无数的须子</tspan><tspan x="2123" dy="22.6">组成的紫色的圆球，远看犹如一颗紫色的水晶</tspan><tspan x="2123" dy="22.6">球，美丽非凡。</tspan></text><line class="u" x1="2114" y1="5641" x2="2484" y2="5641"/></g>
<g id="r35"><text class="t"><tspan x="2123" y="5706">含羞草还有一种特殊的防身本领，那就是——</tspan><tspan x="2123" dy="22.6">—卷叶子。这是为什么呢？我立刻动用随身</tspan><tspan x="2123" dy="22.6">携带的超级计算机"银河一号"———大脑搜索</tspan><tspan x="2123" dy="22.6">出答案。原来含羞草的叶枕里充满水分，只要</tspan><tspan x="2123" dy="22.6">一受刺激水分就会流向小叶片的尖端，叶子没</tspan><tspan x="2123" dy="22.6">有了水分的支撑，就会在自身叶子纤维的拉动</tspan><tspan x="2123" dy="22.6">下缩起来，从而保护自己不受伤害。这真是太</tspan><tspan x="2123" dy="22.6">奇妙了。</tspan></text><line class="u" x1="2114" y1="5878" x2="2484" y2="5878"/></g>
<g id="r36"><text class="t"><tspan x="2123" y="5941">看来，植物也是很有智慧的，所以我们也要爱</tspan><tspan x="2123" dy="22.6">护植物。</tspan></text><line class="u" x1="2114" y1="5978" x2="2484" y2="5978"/></g>
<g id="r37"><text class="t"><tspan x="2123" y="6044">在我的阳台上，有一种有趣的植物，是我奶奶</tspan><tspan x="2123" dy="22.6">从卖花的那里买的。它已经在我家住了四个月</tspan><tspan x="2123" dy="22.6">了！想知道是什么植物？然后继续往下看！</tspan></text><line class="u" x1="2114" y1="6100" x2="2484" y2="6100"/></g>
<g id="r38"><text class="t"><tspan x="2123" y="6168">这种植物大约有十五厘米高，覆盖着绿色，好</tspan><tspan x="2123" dy="22.6">像穿着一件绿色的外套。它的叶子是羽状的，</tspan><tspan x="2123" dy="22.6">叶柄略呈黄褐色，看起来像孔雀尾巴上的羽毛</tspan><tspan x="2123" dy="22.6">。</tspan></text><line class="u" x1="2114" y1="6249" x2="2484" y2="6249"/></g>
<g id="r39"><text class="t"><tspan x="2123" y="6313">这盆植物很有趣。当你触摸它的叶子或茎干时</tspan><tspan x="2123" dy="22.6">，它会像一个害羞的小女孩，合上叶子，垂下</tspan><tspan x="2123" dy="22.6">茎干，不经任何触摸，需要十分钟才能恢复。</tspan><tspan x="2123" dy="22.6">这个习惯很有意思，但之所以会这样，是因为</tspan><tspan x="2123" dy="22.6">任何分叉处都有一种特殊的细胞。当它接触到</tspan><tspan x="2123" dy="22.6">它时，这个细胞会导致叶子闭合，茎下垂。而</tspan><tspan x="2123" dy="22.6">这种植物属于豆科。所以，它晚上会睡觉！</tspan></text><line class="u" x1="2114" y1="6463" x2="2484" y2="6463"/></g>
<g id="r40"><text class="t"><tspan x="2123" y="6527">我非常喜欢这种植物。每当有时间，我总喜欢</tspan><tspan x="2123" dy="22.6">"逗逗"它。看到它害羞的样子总觉得很有趣。</tspan></text><line class="u" x1="2114" y1="6563" x2="2484" y2="6563"/></g>
<g id="r41"><text class="t"><tspan x="2123" y="6628">现在我的介绍结束了，你一定猜到是什么植物</tspan><tspan x="2123" dy="22.6">了。是含羞草——。</tspan></text><line class="u" x1="2114" y1="6665" x2="2484" y2="6665"/></g>
</g>
</g>
</svg>
